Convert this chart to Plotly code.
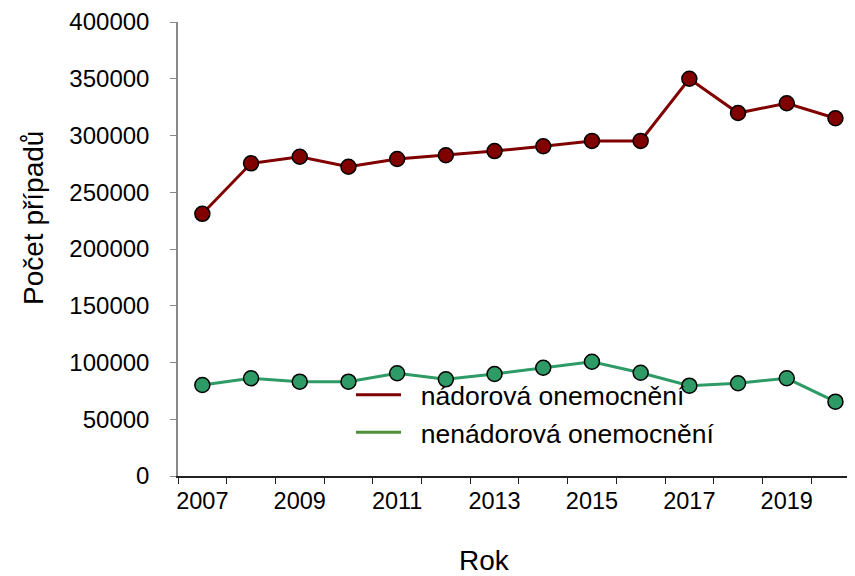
import plotly.graph_objects as go

years = list(range(2007, 2021))
nadorova = [231000, 275500, 281300, 272500, 279300, 282600, 286300, 290500,
            295200, 295200, 350000, 319800, 328400, 315200]
nenadorova = [80200, 86100, 83100, 83100, 90500, 85200, 89900, 95400,
              100700, 91000, 79600, 81700, 86100, 65500]
tick_years = [2007, 2009, 2011, 2013, 2015, 2017, 2019]
series_names = ["nádorová onemocnění", "nenádorová onemocnění"]
y_ticks = [0, 50000, 100000, 150000, 200000, 250000, 300000, 350000, 400000]

FONT = "Arial, 'Liberation Sans', sans-serif"
red = "#800000"
green_marker = "#2E9B67"
green_legend = "#4E8F3A"
PAD = "\u00a0\u00a0"

fig = go.Figure()
fig.add_trace(go.Scatter(
    x=years, y=nadorova, mode="lines+markers", showlegend=False,
    line=dict(color=red, width=3),
    marker=dict(size=15, color=red, line=dict(color="black", width=1.5)),
))
fig.add_trace(go.Scatter(
    x=years, y=nenadorova, mode="lines+markers", showlegend=False,
    line=dict(color=green_marker, width=3),
    marker=dict(size=15, color=green_marker, line=dict(color="black", width=1.5)),
))
# legend-only entries (line only)
fig.add_trace(go.Scatter(x=[None], y=[None], mode="lines", name=PAD + series_names[0],
                         line=dict(color=red, width=3)))
fig.add_trace(go.Scatter(x=[None], y=[None], mode="lines", name=PAD + series_names[1],
                         line=dict(color=green_legend, width=3)))

# page body has an 8px margin; figure sized to fill the 855x576 window
W, H = 847, 568
L, T, B, R = 170, 14, 100, 0
pw, ph = W - L - R, H - T - B


def px(X):  # window x -> paper x
    return (X - 8 - L) / pw


def py(Y):  # window y -> paper y
    return (H - B - (Y - 8)) / ph


fig.update_layout(
    width=W, height=H,
    margin=dict(l=L, r=R, t=T, b=B),
    paper_bgcolor="white", plot_bgcolor="white",
    font=dict(family=FONT, color="black"),
    legend=dict(x=px(351), y=py(371), xanchor="left", yanchor="top",
                bgcolor="rgba(0,0,0,0)", font=dict(size=26.5, family=FONT),
                itemwidth=45, tracegroupgap=0),
    xaxis=dict(
        range=[2006.5, 2006.5 + pw / 48.7],
        tickvals=tick_years, ticktext=[str(y) for y in tick_years],
        ticks="", showgrid=False, zeroline=False,
        showline=True, linecolor="#222222", linewidth=1.5,
        tickfont=dict(size=23.5, family=FONT),
        ticklabelstandoff=3,
        minor=dict(tickvals=[y - 0.5 for y in years], ticks="outside",
                   ticklen=6, tickcolor="#222222", tickwidth=1.2, showgrid=False),
    ),
    yaxis=dict(
        range=[0, 400000], tickvals=y_ticks, ticktext=[str(v) for v in y_ticks],
        ticks="outside", ticklen=6, tickcolor="#888888", tickwidth=1.2,
        showgrid=False, zeroline=False,
        showline=True, linecolor="#888888", linewidth=1.5,
        tickfont=dict(size=24, family=FONT),
        ticklabelstandoff=16,
    ),
    annotations=[
        dict(text="Rok", x=px(484), y=py(560), xref="paper", yref="paper",
             showarrow=False, xanchor="center", yanchor="middle",
             font=dict(size=28, family=FONT)),
        dict(text="Počet případů", textangle=-90, x=px(33), y=py(218),
             xref="paper", yref="paper", showarrow=False,
             xanchor="center", yanchor="middle",
             font=dict(size=28, family=FONT)),
    ],
)

fig.write_html("out.html")
